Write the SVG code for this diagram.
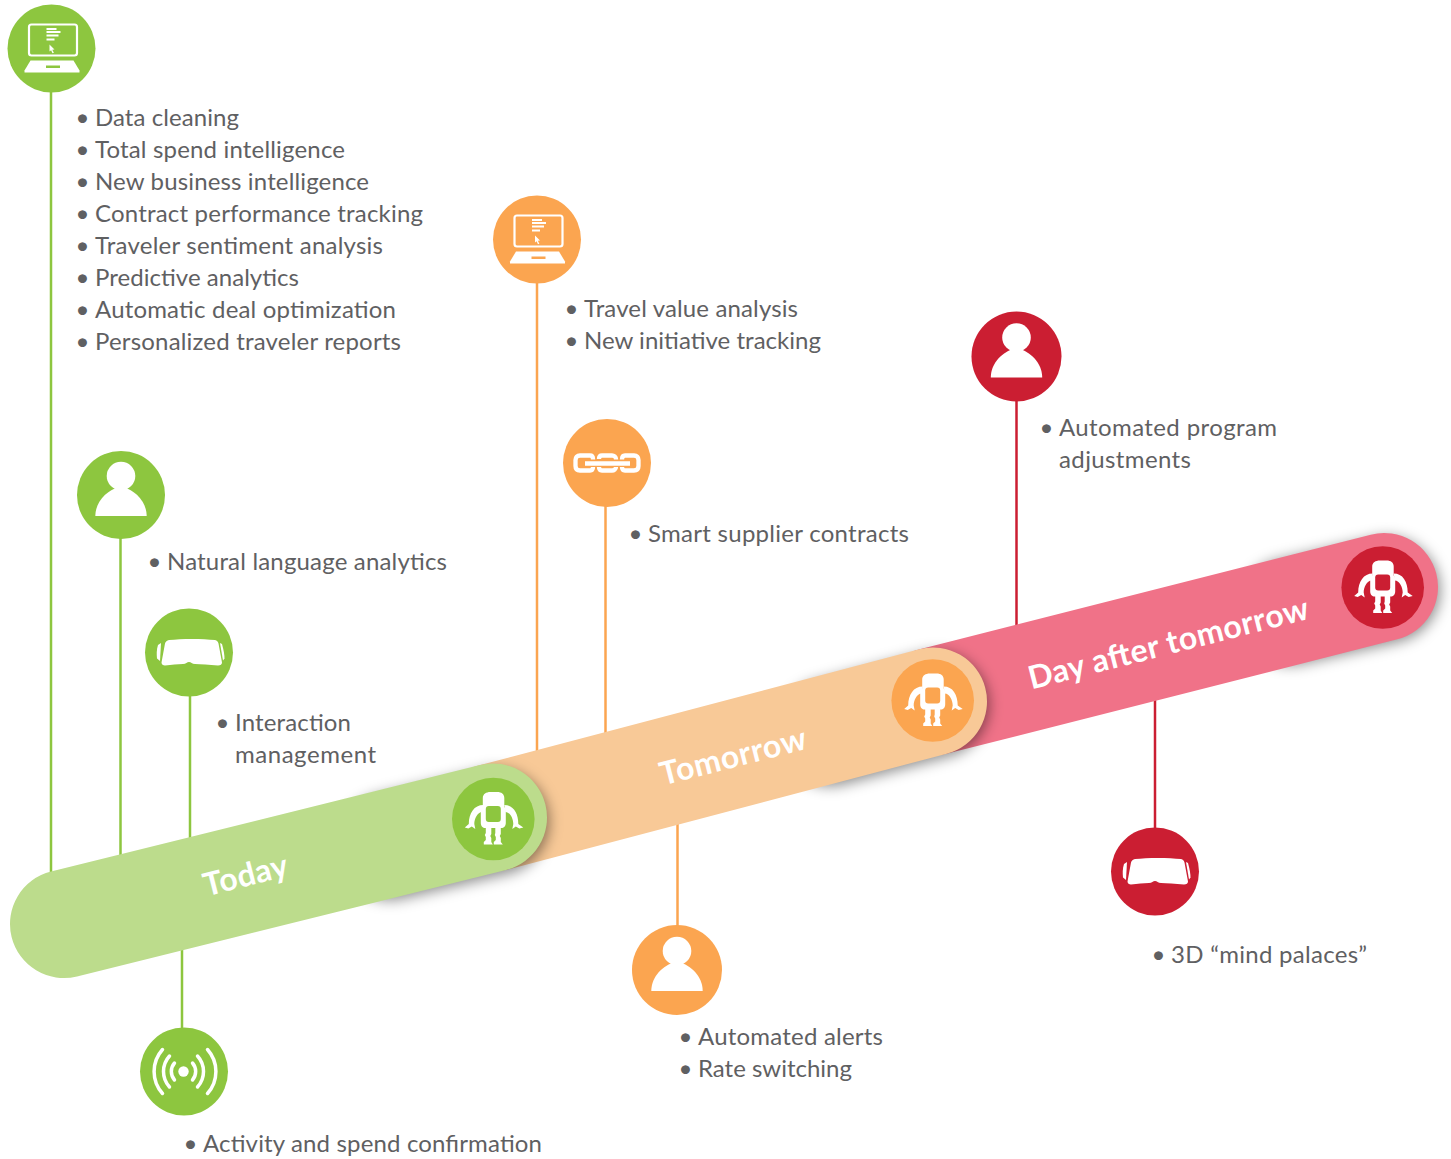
<svg xmlns="http://www.w3.org/2000/svg" width="1451" height="1159" viewBox="0 0 1451 1159">
<style>
text{font-family:Lato,"Liberation Sans",sans-serif}
.t{font-size:24px;fill:#5f6062}
.b{font-size:24px;fill:#5f6062}
.lbl{font-size:32px;font-weight:700;fill:#fff}
.cg{stroke:#8dc63f;fill:none;stroke-width:2.5}
.co{stroke:#fba550;fill:none;stroke-width:2.5}
.cr{stroke:#cb1e32;fill:none;stroke-width:2.5}
.g{fill:#8dc63f}.o{fill:#fba550}.r{fill:#cb1e32}
.band{fill:none;stroke-width:108;stroke-linecap:round}
.shadow{fill:none;stroke:#000;stroke-opacity:.45;stroke-width:106;stroke-linecap:round;filter:url(#blur)}
.w{fill:#fff}
.ws{fill:none;stroke:#fff;stroke-linecap:round}
</style>
<defs>
<filter id="blur" filterUnits="userSpaceOnUse" x="0" y="0" width="1451" height="1159">
<feGaussianBlur stdDeviation="7"/>
</filter>
<g id="laptop">
<rect x="-22.5" y="-24" width="48" height="31" rx="2.5" fill="none" stroke="#fff" stroke-width="2.2"/>
<path class="w" d="M-21,12H22L28,22V24H-27V22Z"/>
<path d="M-5,-19.5H5M-5,-16.5H9M-5,-13H7M-5,-9H3" fill="none" stroke="#fff" stroke-width="1.9"/>
<path class="w" d="M-2,-4L3,1L0.8,1.2L2.4,4.2L1,4.8L-0.4,1.8L-2,3Z"/>
</g>
<g id="person">
<circle class="w" cx="0" cy="-19" r="14.3"/>
<path class="w" d="M-25.7,21C-25.7,6 -13,-5 -3,-7.5H3C13,-5 25.7,6 25.7,21Z"/>
</g>
<g id="robot">
<path class="w" d="M-10.500,-12V-21C-10.500,-25 -7,-27 -3,-27H4C8,-27 11,-25 11,-21V-12C12,-11 12.500,-10 12.500,-8V4C12.500,7 10.500,9 8,9H-8C-10.500,9 -12.500,7 -12.500,4V-8C-12.500,-10 -12,-11 -10.500,-12Z"/>
<path class="w" d="M-10,-14C-19,-14 -24.500,-6 -24.500,5L-28.500,8.500L-25,9.500L-21.500,7.500L-18,10L-19,5C-19,0 -16,-7 -11,-7Z"/>
<path class="w" d="M11,-14C20,-14 25,-6 25,5L30,8.500L26,9.500L22.500,7.500L19,10L20,5C20,0 17,-7 12,-7Z"/>
<path class="w" d="M-7.500,8H-2V15L-3,17L-2,19V23L-0.500,25.500H-9.500V23L-7.500,21V18L-8.500,16L-7.500,14ZM2,8H7.500V15L6.500,17L7.500,19V23L9.500,25.500H0.500V23L2.500,21V18L1.500,16L2,14Z"/>
</g>
<g id="vr">
<path class="w" d="M-20,-12.500C-8,-14 14,-14 26,-12.500C28,-12 29,-11 29.500,-9L33,10C33,12 31.500,13 29,13C20,12.500 12,11.500 6,11.500C3,11.500 2,9.500 0,9.500C-2,9.500 -3,11.500 -6,11.500C-12,11.500 -17,12.500 -24,13C-26,13 -27.500,12 -27.500,10L-24,-9C-23.500,-11 -22,-12 -20,-12.500Z"/>
<path class="w" d="M-28,-9.500L-31,-7.500C-32.500,-3 -32.500,2 -32,6L-29,8.500Z"/>
<path class="w" d="M31,-9.500L33,-8.500C34.500,-3 35.500,2 35.500,6L34,8Z"/>
</g>
</defs>

<g id="connectors">
<path class="cg" d="M51,88V875"/>
<path class="cg" d="M120.500,535V858"/>
<path class="cg" d="M190,692V841"/>
<path class="cg" d="M182,945V1032"/>
<path class="co" d="M537,280V755"/>
<path class="co" d="M605.500,503V736"/>
<path class="co" d="M677.500,820V930"/>
<path class="cr" d="M1016.500,398V630"/>
<path class="cr" d="M1155,695V832"/>
</g>

<g id="bands">
<path class="shadow" d="M1290,612L1387,590"/>
<path id="band-day-after" class="band" stroke="#f07288" d="M933,701.500L1384,587"/>
<path class="shadow" d="M830,733L936,705"/>
<path id="band-tomorrow" class="band" stroke="#f8c997" d="M493,817.500L933,701.500"/>
<path class="shadow" d="M390,847L496,822"/>
<path id="band-today" class="band" stroke="#bcdc8c" d="M64,924L493,817.500"/>
</g>

<g id="today-label"><text class="lbl" transform="translate(206.500,896.500) rotate(-14.300)" textLength="86">Today</text></g>
<g id="tomorrow-label"><text class="lbl" transform="translate(663,785.500) rotate(-14.300)" textLength="150">Tomorrow</text></g>
<g id="dayafter-label"><text class="lbl" transform="translate(1031.500,689.500) rotate(-14.300)" textLength="288">Day after tomorrow</text></g>

<g id="robot-green"><circle class="g" cx="493.300" cy="819" r="41.300"/><use href="#robot" transform="translate(493.300,819)"/><rect class="g" x="485.800" y="806" width="15" height="16" rx="3"/></g>
<g id="robot-orange"><circle class="o" cx="932.700" cy="700.500" r="41.300"/><use href="#robot" transform="translate(932.700,700.500)"/><rect class="o" x="925.200" y="687.500" width="15" height="16" rx="3"/></g>
<g id="robot-red"><circle class="r" cx="1382.700" cy="587.500" r="41.300"/><use href="#robot" transform="translate(1382.700,587.500)"/><rect class="r" x="1375.200" y="574.500" width="15" height="16" rx="3"/></g>

<g id="laptop-green"><circle class="g" cx="51.500" cy="48.500" r="44"/><use href="#laptop" transform="translate(51.500,48.500)"/><rect class="g" x="46" y="65.500" width="14" height="2.500"/></g>
<g id="person-green"><circle class="g" cx="121" cy="495" r="44"/><use href="#person" transform="translate(121,495)"/></g>
<g id="vr-green"><circle class="g" cx="189" cy="652.500" r="44"/><use href="#vr" transform="translate(189,652.500)"/></g>
<g id="signal-green"><circle class="g" cx="184" cy="1071.500" r="44"/>
<g transform="translate(183.500,1071.500)">
<circle class="w" r="5.200"/>
<path class="ws" stroke-width="3.500" d="M-9,-8.500A13,13 0 0 0 -9,8.500M9,-8.500A13,13 0 0 1 9,8.500M-14,-15.500A23,23 0 0 0 -14,15.500M14,-15.500A23,23 0 0 1 14,15.500M-21,-22A33,33 0 0 0 -21,22M24,-22A33,33 0 0 1 24,22"/>
</g></g>

<g id="laptop-orange"><circle class="o" cx="537" cy="239.500" r="44"/><use href="#laptop" transform="translate(537,239.500)"/><rect class="o" x="531.500" y="256.500" width="14" height="2.500"/></g>
<g id="chain-orange"><circle class="o" cx="607" cy="463" r="44"/>
<path fill="none" stroke="#fff" stroke-width="4.300" d="M593,459.500V459C593,457 592,455.500 590,455.500H580C577,455.500 575.500,457.500 575.500,460V466C575.500,469 577,470.500 580,470.500H590C592,470.500 593,469 593,467M585,463.500H630M599,459V459C599,457 600,455.500 602,455.500H612C614,455.500 616,457 616,459V459.500M599,467C599,469 600,470.500 602,470.500H612C614,470.500 616,469 616,467M622,459.500C622,457 623,455.500 625,455.500H634C637,455.500 638.500,457.500 638.500,460V466C638.500,469 637,470.500 634,470.500H625C623,470.500 622,469 622,467"/>
</g>
<g id="person-orange"><circle class="o" cx="677" cy="970" r="45"/><use href="#person" transform="translate(677,970)"/></g>

<g id="person-red"><circle class="r" cx="1016.500" cy="356.500" r="45"/><use href="#person" transform="translate(1016.500,356.500)"/></g>
<g id="vr-red"><circle class="r" cx="1155" cy="871.500" r="44"/><use href="#vr" transform="translate(1155,871.500)"/></g>

<g id="text-laptop-green">
<text class="b" x="75.500" y="126">•</text><text class="t" x="95" y="126" textLength="144">Data cleaning</text>
<text class="b" x="75.500" y="158">•</text><text class="t" x="95" y="158" textLength="250">Total spend intelligence</text>
<text class="b" x="75.500" y="190">•</text><text class="t" x="95" y="190" textLength="274">New business intelligence</text>
<text class="b" x="75.500" y="222">•</text><text class="t" x="95" y="222" textLength="328">Contract performance tracking</text>
<text class="b" x="75.500" y="254">•</text><text class="t" x="95" y="254" textLength="288">Traveler sentiment analysis</text>
<text class="b" x="75.500" y="286">•</text><text class="t" x="95" y="286" textLength="204">Predictive analytics</text>
<text class="b" x="75.500" y="318">•</text><text class="t" x="95" y="318" textLength="301">Automatic deal optimization</text>
<text class="b" x="75.500" y="350">•</text><text class="t" x="95" y="350" textLength="306">Personalized traveler reports</text>
</g>
<g id="text-person-green"><text class="b" x="147.500" y="570">•</text><text class="t" x="167" y="570" textLength="280">Natural language analytics</text></g>
<g id="text-vr-green"><text class="b" x="215.500" y="731">•</text><text class="t" x="235" y="731" textLength="116">Interaction</text><text class="t" x="235" y="763" textLength="141">management</text></g>
<g id="text-signal-green"><text class="b" x="183.500" y="1152">•</text><text class="t" x="203" y="1152" textLength="339">Activity and spend confirmation</text></g>
<g id="text-laptop-orange"><text class="b" x="564.500" y="317">•</text><text class="t" x="584" y="317" textLength="214">Travel value analysis</text><text class="b" x="564.500" y="349">•</text><text class="t" x="584" y="349" textLength="237">New initiative tracking</text></g>
<g id="text-chain-orange"><text class="b" x="628.500" y="542">•</text><text class="t" x="648" y="542" textLength="261">Smart supplier contracts</text></g>
<g id="text-person-orange"><text class="b" x="678.500" y="1045">•</text><text class="t" x="698" y="1045" textLength="185">Automated alerts</text><text class="b" x="678.500" y="1077">•</text><text class="t" x="698" y="1077" textLength="154">Rate switching</text></g>
<g id="text-person-red"><text class="b" x="1039.500" y="436">•</text><text class="t" x="1059" y="436" textLength="218">Automated program</text><text class="t" x="1059" y="468" textLength="132">adjustments</text></g>
<g id="text-vr-red"><text class="b" x="1151.500" y="963">•</text><text class="t" x="1171" y="963" textLength="196">3D “mind palaces”</text></g>
</svg>
